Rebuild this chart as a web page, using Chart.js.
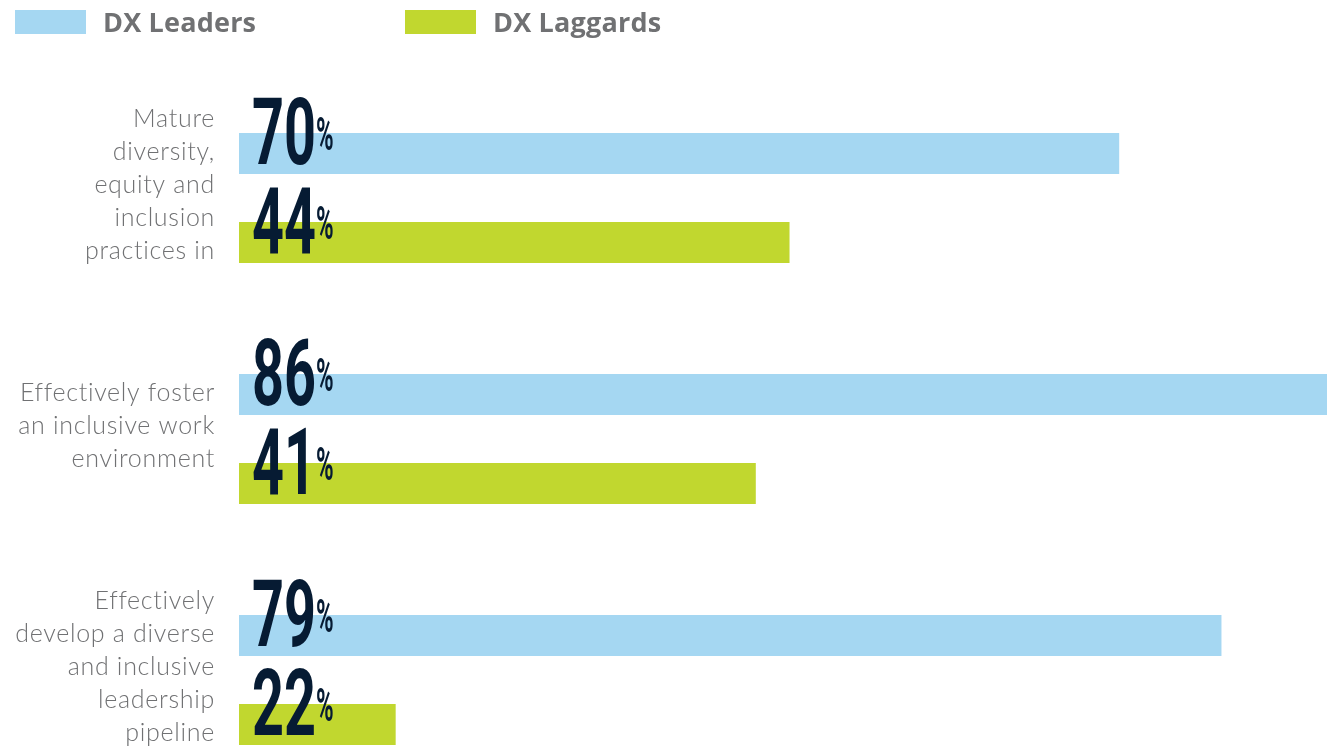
<!DOCTYPE html>
<html>
<head>
<meta charset="utf-8">
<title>DX Leaders vs DX Laggards</title>
<script src="https://cdn.jsdelivr.net/npm/chart.js@4"></script>
<style>
    html, body { margin: 0; padding: 0; background: #ffffff; }
    #wrap { position: relative; width: 1327px; height: 751px; }
    .legend { position: absolute; top: 10px; left: 0; height: 24px; }
    .legend-item { position: absolute; top: 0; height: 24px; white-space: nowrap; }
    .legend-box { position: absolute; left: 0; top: 0; width: 71px; height: 24px; }
    .legend-text {
        position: absolute; left: 88px; top: -5px;
        font: bold 27px "Open Sans", sans-serif; color: #707173; line-height: 34px;
        letter-spacing: 0.2px;
    }
</style>
</head>
<body>
<div id="wrap">
    <canvas id="dxChart"></canvas>
    <div class="legend" id="legend"></div>
</div>
<script>
// categories (one array of lines per category)
const categories = [
    ['Mature', 'diversity,', 'equity and', 'inclusion', 'practices in'],
    ['Effectively foster', 'an inclusive work', 'environment'],
    ['Effectively', 'develop a diverse', 'and inclusive', 'leadership', 'pipeline']
];

// printed percentages
const leadersPct = [70, 86, 79];
const laggardsPct = [44, 41, 22];

// bar lengths as drawn in the picture (share of the full axis, 0-100)
const leadersBar = [80.9, 100, 90.3];
const laggardsBar = [50.6, 47.5, 14.4];

const seriesNames = ['DX Leaders', 'DX Laggards'];
const colors = ['#a5d7f2', '#c1d72f'];
const navy = '#061b33';
const grey = '#707173';

// legend (html, placed like the original)
const legendEl = document.getElementById('legend');
const legendLeft = [15, 405];
seriesNames.forEach((name, i) => {
    const item = document.createElement('div');
    item.className = 'legend-item';
    item.style.left = legendLeft[i] + 'px';
    item.innerHTML = `<div class="legend-box" style="background:${colors[i]}"></div>` +
                     `<div class="legend-text">${name}</div>`;
    legendEl.appendChild(item);
});

// category labels on the left, right aligned
const categoryLabels = {
    id: 'categoryLabels',
    afterDraw(chart) {
        const ctx = chart.ctx;
        const yScale = chart.scales.y;
        const lineHeight = 33;
        ctx.save();
        ctx.font = '300 25px Lato, "Open Sans", sans-serif';
        ctx.letterSpacing = '0.7px';
        ctx.fillStyle = grey;
        ctx.textAlign = 'right';
        ctx.textBaseline = 'alphabetic';
        chart.data.labels.forEach((lines, i) => {
            const center = yScale.getPixelForTick(i);
            lines.forEach((line, j) => {
                const y = center + (j - (lines.length - 1) / 2) * lineHeight - 5;
                ctx.fillText(line, 215, y);
            });
        });
        ctx.restore();
    }
};

// big condensed percentages sitting on the bars
const valueLabels = {
    id: 'valueLabels',
    afterDatasetsDraw(chart) {
        const ctx = chart.ctx;
        chart.data.datasets.forEach((ds, di) => {
            const meta = chart.getDatasetMeta(di);
            const pct = di === 0 ? leadersPct : laggardsPct;
            meta.data.forEach((bar, i) => {
                const x = bar.base + 13;
                const baseline = bar.y + bar.height / 2 - 10;
                ctx.save();
                ctx.fillStyle = navy;
                ctx.textBaseline = 'alphabetic';
                ctx.textAlign = 'left';
                ctx.translate(x, baseline);
                ctx.scale(0.6, 1);
                ctx.font = 'bold 93px Roboto, "DejaVu Sans", sans-serif';
                ctx.fillText(String(pct[i]), 0, 0);
                ctx.restore();

                ctx.save();
                ctx.fillStyle = navy;
                ctx.translate(x + 64, baseline - 14);
                ctx.scale(0.52, 1);
                ctx.font = 'bold 46px Roboto, "DejaVu Sans", sans-serif';
                ctx.fillText('%', 0, 0);
                ctx.restore();
            });
        });
    }
};

const chart = new Chart(document.getElementById('dxChart').getContext('2d'), {
    type: 'bar',
    data: {
        labels: categories,
        datasets: [
            {
                label: seriesNames[0],
                data: leadersBar,
                backgroundColor: colors[0],
                clip: false
            },
            {
                label: seriesNames[1],
                data: laggardsBar,
                backgroundColor: colors[1],
                clip: false
            }
        ]
    },
    options: {
        indexAxis: 'y',
        responsive: true,
        maintainAspectRatio: false,
        animation: false,
        categoryPercentage: 0.7386,
        barPercentage: 0.4607,
        layout: {
            padding: { left: 239, right: 0, top: 198, bottom: 71 }
        },
        scales: {
            x: { min: 0, max: 100, display: false },
            y: { display: false, offset: false }
        },
        plugins: {
            legend: { display: false },
            tooltip: { enabled: false }
        }
    },
    plugins: [categoryLabels, valueLabels]
});
</script>
</body>
</html>
